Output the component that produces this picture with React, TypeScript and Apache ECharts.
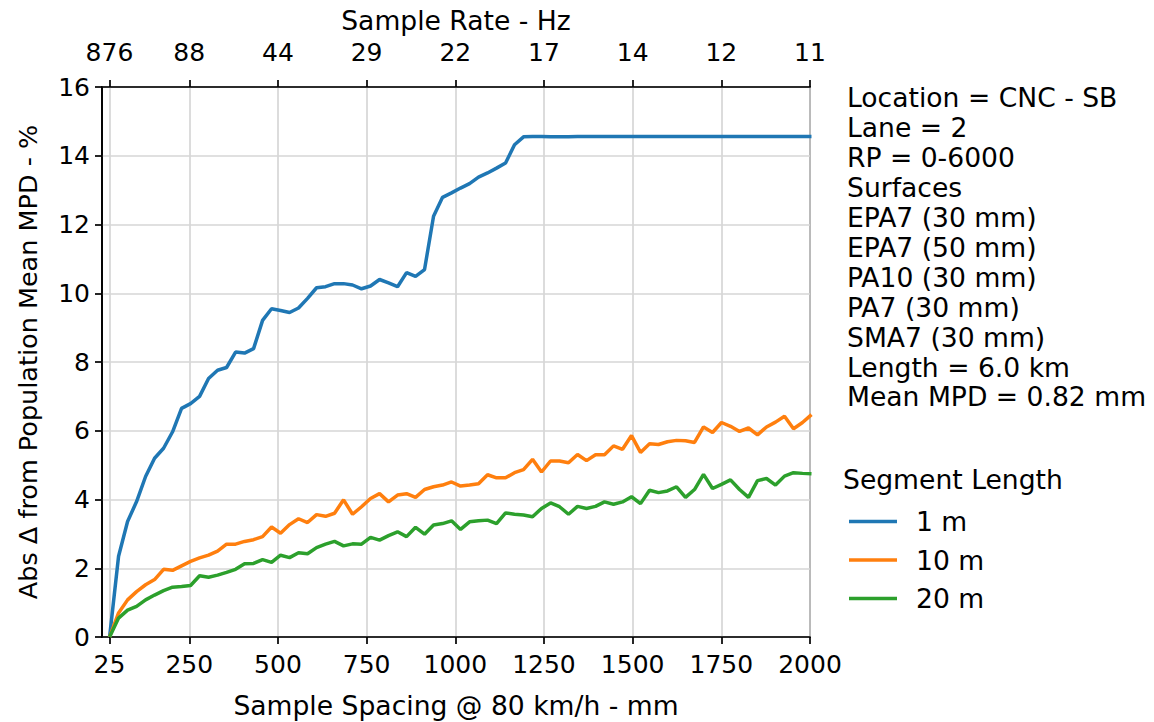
import { useEffect, useRef } from "react";
import * as echarts from "echarts";

// Sample spacing (mm) of each point
const sampleSpacing = [
  25.4, 50.7, 76.1, 101.5, 126.9, 152.2, 177.6, 203.0, 228.3, 253.7,
  279.1, 304.4, 329.8, 355.2, 380.6, 405.9, 431.3, 456.7, 482.0, 507.4,
  532.8, 558.1, 583.5, 608.9, 634.3, 659.6, 685.0, 710.4, 735.7, 761.1,
  786.5, 811.8, 837.2, 862.6, 888.0, 913.3, 938.7, 964.1, 989.4, 1014.8,
  1040.2, 1065.5, 1090.9, 1116.3, 1141.7, 1167.0, 1192.4, 1217.8, 1243.1, 1268.5,
  1293.9, 1319.2, 1344.6, 1370.0, 1395.4, 1420.7, 1446.1, 1471.5, 1496.8, 1522.2,
  1547.6, 1572.9, 1598.3, 1623.7, 1649.1, 1674.4, 1699.8, 1725.2, 1750.5, 1775.9,
  1801.3, 1826.6, 1852.0, 1877.4, 1902.8, 1928.1, 1953.5, 1978.9, 2004.2,
];

const seg1m = [
  0, 2.35, 3.36, 3.94, 4.67, 5.2, 5.49, 5.97, 6.65, 6.79,
  7.0, 7.52, 7.76, 7.84, 8.29, 8.26, 8.39, 9.21, 9.55, 9.5,
  9.44, 9.57, 9.85, 10.16, 10.19, 10.28, 10.28, 10.24, 10.13, 10.21,
  10.4, 10.3, 10.19, 10.6, 10.49, 10.69, 12.24, 12.79, 12.92, 13.06,
  13.19, 13.38, 13.5, 13.64, 13.79, 14.32, 14.55, 14.56, 14.56, 14.55,
  14.55, 14.55, 14.56, 14.56, 14.56, 14.56, 14.56, 14.56, 14.56, 14.56,
  14.56, 14.56, 14.56, 14.56, 14.56, 14.56, 14.56, 14.56, 14.56, 14.56,
  14.56, 14.56, 14.56, 14.56, 14.56, 14.56, 14.56, 14.56, 14.56,
];

const seg10m = [
  0, 0.7, 1.08, 1.32, 1.52, 1.67, 1.97, 1.94, 2.07, 2.2,
  2.3, 2.38, 2.5, 2.7, 2.7, 2.78, 2.83, 2.92, 3.2, 3.02,
  3.27, 3.44, 3.33, 3.56, 3.51, 3.6, 3.99, 3.57, 3.79, 4.03,
  4.17, 3.93, 4.13, 4.17, 4.06, 4.29, 4.37, 4.42, 4.51, 4.39,
  4.42, 4.46, 4.72, 4.63, 4.63, 4.78, 4.87, 5.17, 4.8, 5.12,
  5.12, 5.07, 5.31, 5.13, 5.3, 5.3, 5.56, 5.46, 5.86, 5.37,
  5.62, 5.6, 5.68, 5.72, 5.71, 5.66, 6.11, 5.95, 6.24, 6.13,
  5.98, 6.08, 5.88, 6.11, 6.25, 6.42, 6.06, 6.24, 6.47,
];

const seg20m = [
  0, 0.55, 0.78, 0.89, 1.08, 1.22, 1.35, 1.45, 1.47, 1.5,
  1.78, 1.74, 1.8, 1.88, 1.97, 2.13, 2.14, 2.25, 2.17, 2.38,
  2.31, 2.45, 2.42, 2.6, 2.7, 2.78, 2.65, 2.71, 2.7, 2.9,
  2.82, 2.95, 3.06, 2.92, 3.19, 2.99, 3.26, 3.3, 3.38, 3.13,
  3.35, 3.38, 3.4, 3.3, 3.61, 3.57, 3.55, 3.5, 3.74, 3.9,
  3.79, 3.57, 3.8, 3.74, 3.8, 3.93, 3.86, 3.93, 4.08, 3.88,
  4.27, 4.2, 4.25, 4.37, 4.06, 4.29, 4.73, 4.32, 4.44, 4.57,
  4.29, 4.06, 4.55, 4.61, 4.42, 4.68, 4.78, 4.76, 4.75,
];

const spacingTicks = [25, 250, 500, 750, 1000, 1250, 1500, 1750, 2000];
const rateTickLabels = ["876", "88", "44", "29", "22", "17", "14", "12", "11"];
const seriesNames = ["1 m", "10 m", "20 m"];
const seriesColors = ["#1f77b4", "#ff7f0e", "#2ca02c"];
const infoLines = [
  "Location = CNC - SB",
  "Lane = 2",
  "RP = 0-6000",
  "Surfaces",
  "EPA7 (30 mm)",
  "EPA7 (50 mm)",
  "PA10 (30 mm)",
  "PA7 (30 mm)",
  "SMA7 (30 mm)",
  "Length = 6.0 km",
  "Mean MPD = 0.82 mm",
];
const legendTitle = "Segment Length";

const FONT = "DejaVu Sans";
const FS = 25;
const FS_TEXT = 26.6;

export default function App() {
  const ref = useRef<HTMLDivElement>(null);

  useEffect(() => {
    if (!ref.current) return;
    const chart = echarts.init(ref.current, undefined, { renderer: "svg" });
    const allSeries = [seg1m, seg10m, seg20m];

    const axisLineStyle = { color: "#000", width: 1.7 };
    const labelStyle = { fontSize: FS, color: "#000", fontFamily: FONT };
    const nameStyle = { fontSize: FS_TEXT, color: "#000", fontFamily: FONT };

    const option: any = {
      animation: false,
      backgroundColor: "#ffffff",
      textStyle: { fontFamily: FONT },
      grid: {
        left: 102,
        right: 344,
        top: 87,
        bottom: 85,
        show: true,
        borderColor: "#000",
        borderWidth: 1.7,
        backgroundColor: "transparent",
        containLabel: false,
        outerBoundsMode: "none",
      },
      xAxis: [
        {
          type: "value",
          position: "bottom",
          min: 4,
          max: 2000,
          name: "Sample Spacing @ 80 km/h - mm",
          nameLocation: "middle",
          nameGap: 55,
          nameTextStyle: nameStyle,
          axisLine: { show: true, onZero: false, lineStyle: axisLineStyle },
          axisTick: { show: true, inside: false, length: 7, customValues: spacingTicks, lineStyle: axisLineStyle },
          axisLabel: {
            customValues: spacingTicks,
            margin: 15,
            showMinLabel: true,
            showMaxLabel: true,
            ...labelStyle,
            formatter: (v: number) => String(Math.round(v)),
          },
          splitLine: { show: true, lineStyle: { color: "#d6d6d6", width: 1.7 } },
        },
        {
          type: "value",
          position: "top",
          min: 4,
          max: 2000,
          name: "Sample Rate - Hz",
          nameLocation: "middle",
          nameGap: 53,
          nameTextStyle: nameStyle,
          axisLine: { show: true, onZero: false, lineStyle: axisLineStyle },
          axisTick: { show: true, inside: false, length: 7, customValues: spacingTicks, lineStyle: axisLineStyle },
          axisLabel: {
            customValues: spacingTicks,
            margin: 22,
            showMinLabel: true,
            showMaxLabel: true,
            ...labelStyle,
            formatter: (v: number) => {
              const i = spacingTicks.findIndex((t) => Math.abs(t - v) < 0.5);
              return i >= 0 ? rateTickLabels[i] : "";
            },
          },
          splitLine: { show: false },
        },
      ],
      yAxis: {
        type: "value",
        min: 0,
        max: 16,
        interval: 2,
        name: "Abs Δ from Population Mean MPD - %",
        nameLocation: "middle",
        nameGap: 61,
        nameTextStyle: { ...labelStyle, fontSize: 25.5 },
        axisLine: { show: true, onZero: false, lineStyle: axisLineStyle },
        axisTick: { show: true, inside: false, length: 7, lineStyle: axisLineStyle },
        axisLabel: { margin: 12, ...labelStyle },
        splitLine: { show: true, lineStyle: { color: "#d6d6d6", width: 1.7 } },
      },
      legend: {
        orient: "vertical",
        left: 844,
        top: 503,
        icon: "rect",
        itemWidth: 48,
        itemHeight: 3.5,
        itemGap: 11.5,
        textStyle: { ...nameStyle, padding: [0, 0, 0, 14] },
        data: seriesNames,
      },
      graphic: [
        {
          type: "text",
          left: 847,
          top: 83,
          style: {
            text: infoLines.join("\n"),
            fontSize: FS_TEXT,
            fontFamily: FONT,
            fill: "#000",
            lineHeight: 29.9,
          },
        },
        {
          type: "text",
          left: 843,
          top: 466,
          style: {
            text: legendTitle,
            fontSize: FS_TEXT,
            fontFamily: FONT,
            fill: "#000",
          },
        },
      ],
      series: allSeries.map((vals, si) => ({
        name: seriesNames[si],
        type: "line",
        xAxisIndex: 0,
        yAxisIndex: 0,
        symbol: "none",
        showSymbol: false,
        clip: true,
        color: seriesColors[si],
        lineStyle: { color: seriesColors[si], width: 3.5 },
        data: sampleSpacing.map((x, i) => [x, vals[i]]),
      })),
    };

    chart.setOption(option);
    return () => chart.dispose();
  }, []);

  return (
    <div
      ref={ref}
      style={{ position: "absolute", left: 0, top: 0, width: 1154, height: 722, background: "#fff" }}
    />
  );
}
